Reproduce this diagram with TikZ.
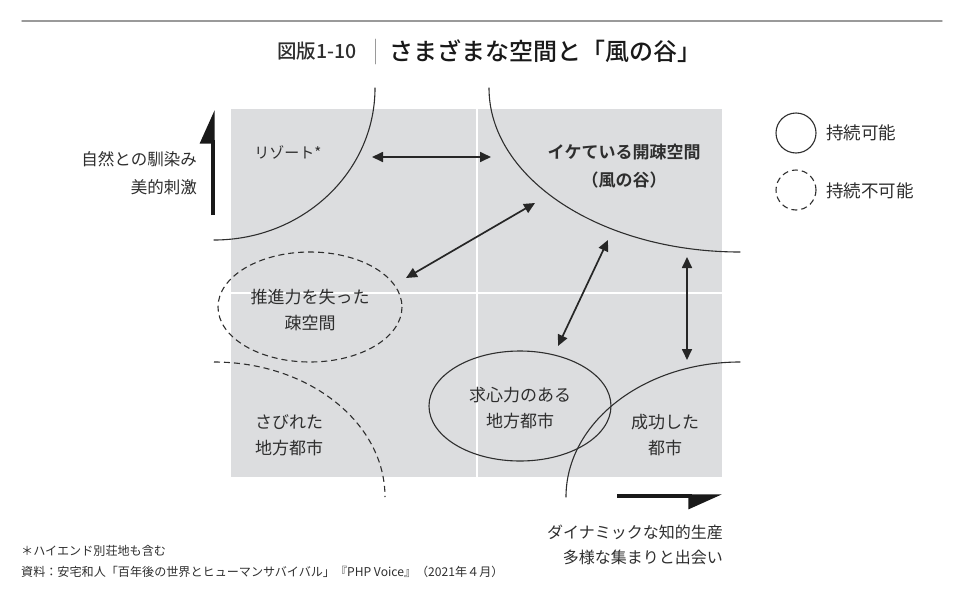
\documentclass[tikz,border=0pt]{standalone}
\usepackage{fontspec}
\setmainfont{Noto Sans CJK JP}[BoldFont={Noto Sans CJK JP Bold}]
\newfontfamily\medfont{Noto Sans CJK JP Medium}
\usetikzlibrary{arrows.meta}
\definecolor{txt}{HTML}{2E2E2E}
\definecolor{panel}{HTML}{DCDDDF}
\definecolor{rulegray}{HTML}{9A9A9A}
\begin{document}
\begin{tikzpicture}[x=1pt, y=-1pt, line join=round, line cap=round, >={Triangle[length=11pt,width=10pt]},
  lbl/.style={text=txt, align=center, font=\fontsize{17}{26}\selectfont},
  side/.style={text=txt, inner sep=0pt, font=\fontsize{16.5}{28}\selectfont},
  solidline/.style={draw=txt, line width=1.1pt},
  dashline/.style={solidline, line cap=butt, dash pattern=on 6pt off 4pt},
  axis/.style={line width=3.2pt, line cap=butt, draw=black!90}]
\useasboundingbox (0,0) rectangle (970,600);
\draw[rulegray, line width=1.4pt] (22,21) -- (942,21);
\node[anchor=east, inner sep=0pt, text=txt, font=\medfont\fontsize{19.5}{20}\selectfont] (fignum) at (357,51) {図版1-10};
\draw[rulegray, line width=0.9pt] (375,39) -- (375,64);
\node[anchor=west, inner sep=0pt, text=black!90, font=\medfont\fontsize{24}{24}\selectfont] (title) at (389,51) {さまざまな空間と「風の谷」};
\fill[panel] (231,109) rectangle (722,477);
\draw[white, line width=2.5pt] (477,109) -- (477,477) (231,293) -- (722,293);
\draw[solidline] (375,88) arc[start angle=0, end angle=90, x radius=161, y radius=152];
\draw[solidline] (489,88) arc[start angle=180, end angle=90, x radius=251, y radius=164];
\draw[solidline] (740,362) arc[start angle=-90, end angle=-180, x radius=174, y radius=135];
\draw[dashline] (214,362) arc[start angle=-90, end angle=0, x radius=171, y radius=135];
\draw[dashline] (310,307) ellipse[x radius=92, y radius=55];
\draw[solidline] (520,406) ellipse[x radius=91, y radius=55];
\path (372,157) coordinate (rA) (491,157) coordinate (rB) (406,278) coordinate (sA) (535,203) coordinate (sB)
  (558,346) coordinate (cA) (608,240) coordinate (cB) (687,257) coordinate (uA) (687,360) coordinate (uB);
\foreach \a/\b in {rA/rB,sA/sB,cA/cB,uA/uB} \draw[<->, draw=black!85, line width=1.7pt] (\a) -- (\b);
\path (213,215) coordinate (yS) (213,110) coordinate (yE) (617,496) coordinate (xS) (722,496) coordinate (xE);
\draw[axis, -{Triangle[harpoon,length=30pt,width=26pt]}] (yS) -- (yE);
\draw[axis, -{Triangle[harpoon,swap,length=30pt,width=26pt]}] (xS) -- (xE);
\node[lbl, font=\fontsize{15}{20}\selectfont] (resort) at (288,152) {リゾート*};
\node[lbl, font=\bfseries\fontsize{17}{28}\selectfont] (valley) at (624,166) {イケている開疎空間\\（風の谷）};
\node[lbl] (lost) at (310,310) {推進力を失った\\疎空間};
\node[lbl] (faded) at (289,435.5) {さびれた\\地方都市};
\node[lbl] (hub) at (520,408) {求心力のある\\地方都市};
\node[lbl] (metro) at (665,435) {成功した\\都市};
\node[side, anchor=east, align=right] (nature) at (197,173) {自然との馴染み\\美的刺激};
\node[side, anchor=east, align=right, font=\fontsize{16}{25}\selectfont] (dynamic) at (723,544.5) {ダイナミックな知的生産\\多様な集まりと出会い};
\draw[solidline] (796,133) circle[radius=20];
\draw[dashline] (796,190) circle[radius=20];
\node[side, anchor=west, font=\fontsize{17.5}{20}\selectfont] (sus) at (826,133) {持続可能};
\node[side, anchor=west, font=\fontsize{17.5}{20}\selectfont] (unsus) at (826,191) {持続不可能};
\node[side, anchor=west, align=left, font=\fontsize{12.1}{21}\selectfont] (notes) at (21,561.5) {＊ハイエンド別荘地も含む\\資料：安宅和人「百年後の世界とヒューマンサバイバル」『PHP Voice』（2021年４月）};
\end{tikzpicture}
\end{document}
